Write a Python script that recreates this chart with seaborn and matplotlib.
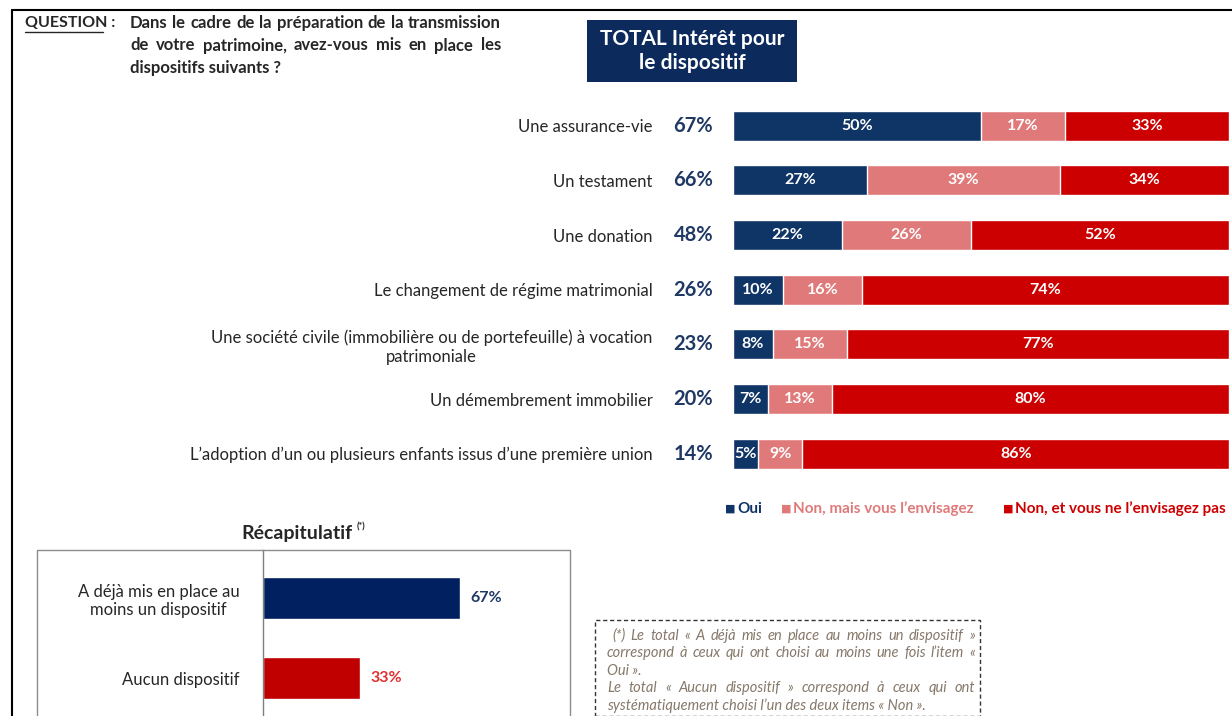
import numpy as np
import pandas as pd
import matplotlib.pyplot as plt
import matplotlib.patches as mpatches
from matplotlib.lines import Line2D
import seaborn as sns

# Data
dispositifs = [
    "Une assurance-vie",
    "Un testament",
    "Une donation",
    "Le changement de régime matrimonial",
    "Une société civile (immobilière ou de portefeuille) à vocation\npatrimoniale",
    "Un démembrement immobilier",
    "L’adoption d’un ou plusieurs enfants issus d’une première union",
]
oui = [50, 27, 22, 10, 8, 7, 5]
non_mais = [17, 39, 26, 16, 15, 13, 9]
non_jamais = [33, 34, 52, 74, 77, 80, 86]
total_interet = [67, 66, 48, 26, 23, 20, 14]

legend_labels = ["Oui", "Non, mais vous l’envisagez", "Non, et vous ne l’envisagez pas"]

recap_labels = ["A déjà mis en place au\nmoins un dispositif", "Aucun dispositif"]
recap_values = [67, 33]

# (text, justified?)
question_lines = [
    ("Dans le cadre de la préparation de la transmission", True),
    ("de votre patrimoine, avez-vous mis en place les", True),
    ("dispositifs suivants ?", False),
]
footnote_lines = [
    ("(*) Le total « A déjà mis en place au moins un dispositif »", True),
    ("correspond à ceux qui ont choisi au moins une fois l’item «", True),
    ("Oui ».", False),
    ("Le total « Aucun dispositif » correspond à ceux qui ont", True),
    ("systématiquement choisi l’un des deux items « Non ».", False),
]

NAVY = "#0f3466"
PINK = "#e07a7a"
RED = "#cc0000"
RECAP_NAVY = "#002060"
RECAP_RED = "#c00000"
TXT = "#262626"

sns.set_style("white")
plt.rcParams["font.family"] = ["Lato", "DejaVu Sans"]

W, H = 1232, 716
fig = plt.figure(figsize=(W / 100, H / 100), dpi=100)
renderer = fig.canvas.get_renderer()


def fx(x):
    return x / W


def fy(y):
    return 1 - y / H


def justified(lines, x_left, x_right, y0, step, first_indent=0, **kw):
    for k, (line, just) in enumerate(lines):
        ypos = fy(y0 + k * step)
        start = x_left + (first_indent if k == 0 else 0)
        if not just:
            fig.text(fx(start), ypos, line, va="center", **kw)
            continue
        words = line.split(" ")
        widths = []
        for w_ in words:
            t = fig.text(0, 0, w_, **kw)
            widths.append(t.get_window_extent(renderer).width)
            t.remove()
        gap = (x_right - start - sum(widths)) / (len(words) - 1)
        xpos = start
        for w_, wd in zip(words, widths):
            fig.text(fx(xpos), ypos, w_, va="center", **kw)
            xpos += wd + gap


# frame lines
fig.add_artist(Line2D([fx(12), fx(12)], [fy(10), 0], color="black", lw=1.5))
fig.add_artist(Line2D([fx(12), 1], [fy(10), fy(10)], color="black", lw=1.5))

# question
fig.text(fx(25), fy(23), "QUESTION :", fontsize=11.5, fontweight="bold", color=TXT, va="center")
fig.add_artist(Line2D([fx(25), fx(103)], [fy(32), fy(32)], color=TXT, lw=1))
justified(question_lines, 130, 501, 23, 22.5, fontsize=12, fontweight="bold", color=TXT)

# title box
fig.add_artist(mpatches.Rectangle((fx(587), fy(82)), fx(797) - fx(587), fy(20) - fy(82),
                                  transform=fig.transFigure, facecolor="#0c2a5c", edgecolor="none"))
fig.text(fx(692), fy(51), "TOTAL Intérêt pour\nle dispositif", fontsize=15, fontweight="bold",
         color="white", ha="center", va="center", linespacing=1.3)

# main stacked bars
df = pd.DataFrame({"dispositif": dispositifs, "oui": oui, "non_mais": non_mais, "non": non_jamais})
df["c1"] = df["oui"]
df["c2"] = df["oui"] + df["non_mais"]
df["c3"] = df["c2"] + df["non"]

ax = fig.add_axes([fx(733), fy(481), 496 / W, 382.6 / H])
for col, c in [("c3", RED), ("c2", PINK), ("c1", NAVY)]:
    sns.barplot(data=df, x=col, y="dispositif", orient="h", color=c, saturation=1,
                width=0.55, edgecolor="white", linewidth=1, ax=ax)
ax.set_xlim(0, 100)
ax.set_xlabel("")
ax.set_ylabel("")
ax.set_xticks([])
sns.despine(ax=ax, left=True, bottom=True)
ax.tick_params(axis="y", length=0, pad=58)
for lab in ax.get_yticklabels():
    lab.set_fontsize(12)
    lab.set_color(TXT)
    lab.set_multialignment("center")

for i, row in df.iterrows():
    for start, val in [(0, row["oui"]), (row["c1"], row["non_mais"]), (row["c2"], row["non"])]:
        ax.text(start + val / 2, i, f"{val}%", color="white", fontsize=11.5,
                fontweight="bold", ha="center", va="center")
    ax.text(-4, i, f"{total_interet[i]}%", color="#1f3864", fontsize=14.5, fontweight="bold",
            ha="right", va="center")

# legend
for xpos, lab, c in [(725, legend_labels[0], NAVY), (781, legend_labels[1], PINK),
                     (1003, legend_labels[2], RED)]:
    fig.text(fx(xpos), fy(509), "■", color=c, fontsize=8, va="center", family="DejaVu Sans")
    fig.text(fx(xpos + 12), fy(509), lab, color=c, fontsize=11, fontweight="bold", va="center")

# recap
fig.text(fx(297), fy(533), "Récapitulatif", fontsize=14, fontweight="bold", color=TXT,
         ha="center", va="center")
fig.text(fx(357), fy(527), "(*)", fontsize=6.5, fontweight="bold", color=TXT, va="center")

rdf = pd.DataFrame({"label": recap_labels, "value": recap_values})
axr = fig.add_axes([fx(263), 0, 307 / W, 166 / H])
sns.barplot(data=rdf, x="value", y="label", hue="label", palette=[RECAP_NAVY, RECAP_RED],
            legend=False, orient="h", saturation=1, width=0.52, ax=axr)
axr.set_xlim(0, 104.4)
axr.set_ylim(1.475, -0.6)
axr.set_xlabel("")
axr.set_ylabel("")
axr.set_xticks([])
axr.tick_params(axis="y", length=0, pad=17)
for lab in axr.get_yticklabels():
    lab.set_fontsize(12)
    lab.set_color(TXT)
    lab.set_multialignment("center")
for s in ["top", "right", "bottom"]:
    axr.spines[s].set_visible(False)
axr.spines["left"].set_color("#7f7f7f")
axr.spines["left"].set_linewidth(1)
for i, (v, c) in enumerate(zip(recap_values, ["#1f3864", "#e03030"])):
    axr.text(v + 3.4, i, f"{v}%", color=c, fontsize=11.5, fontweight="bold", va="center")

# recap frame
fig.add_artist(Line2D([fx(37), fx(37), fx(570), fx(570)], [0, fy(550), fy(550), 0],
                      color="#8c8c8c", lw=1))

# footnote box + text
fig.add_artist(mpatches.Rectangle((fx(595), fy(716)), fx(980) - fx(595), fy(620) - fy(716),
                                  transform=fig.transFigure, facecolor="none", edgecolor="#333333",
                                  lw=1, linestyle=(0, (3, 2))))
justified(footnote_lines, 607, 975, 636, 17.3, first_indent=5,
          fontsize=10.5, style="italic", color="#86786a")

fig.savefig("out.png", dpi=100)
